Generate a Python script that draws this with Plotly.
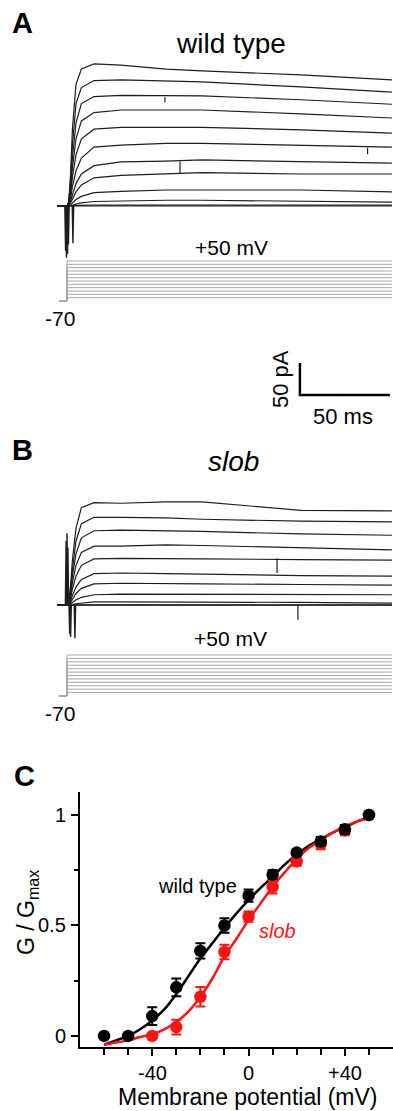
import plotly.graph_objects as go

W, H = 393, 1111
FONT = "Arial, Liberation Sans, sans-serif"

# ---------------- data ----------------
step_mV = [-60, -50, -40, -30, -20, -10, 0, 10, 20, 30, 40, 50]
hold_mV = -70
hold_start_ms = -4.4
step_end_ms = 180.5

# sample times (ms) of the current sweeps
t_ms = [-5.5, 0, 1, 2, 3, 5, 8, 15, 30, 55, 75, 130, 180.5]

# wild type currents (pA), one list per voltage step (-60 ... +50 mV)
wt_current_pA = [
    [0, 0, 0, 0, 0, 0, 0, 0, 0, 0, 0, 0, 0],
    [0, 0, 0, 0, 0, 1, 1, 1.5, 1.5, 1.5, 1.5, 1.5, 1.5],
    [0, 0, 0, 1, 1, 3, 5, 7, 8, 9, 9, 8, 6],
    [0, 0, 0, 2, 5, 10, 15, 21, 23, 25, 25, 25, 22],
    [0, 0, 1, 5, 11, 22, 33, 44, 48, 50, 52, 50, 50],
    [0, 0, 1, 8, 18, 35, 50, 63, 69, 70, 72, 69, 67],
    [0, 0, 2, 12, 30, 55, 75, 92, 95, 98, 98, 95, 92],
    [0, 0, 3, 18, 45, 80, 105, 120, 123, 123, 123, 119, 114],
    [0, 0, 4, 25, 60, 105, 133, 146, 150, 150, 150, 144, 137.5],
    [0, 0, 5, 32, 75, 130, 160, 171, 173, 172, 172, 166, 159],
    [0, 0, 6, 40, 95, 160, 185, 196, 197, 195, 194, 186, 178],
    [0, 0, 8, 50, 120, 190, 214, 222, 220, 214, 211, 205, 197],
]
# slob currents (pA)
slob_current_pA = [
    [0, 0, 0, 0, 0, 0, 0, 0, 0, 0, 0, 0, 0],
    [0, 0, 0, 0, 0, 0, 0, 0, 0, 0, 0, 0, 0],
    [0, 0, 0, 0, 0, 0, 0, 0, 0, 0, 0, 0, 0],
    [0, 0, 0, 0, 1, 2, 3, 5, 5, 5, 5, 4, 3],
    [0, 0, 0, 2, 4, 8, 12, 16, 17, 17, 17, 16, 16],
    [0, 0, 1, 4, 9, 18, 26, 33, 34, 34, 33, 32, 31],
    [0, 0, 1, 6, 15, 28, 40, 49, 50, 49, 48, 46, 45],
    [0, 0, 2, 10, 25, 45, 62, 72, 73, 73, 72, 71, 70],
    [0, 0, 2, 15, 35, 62, 82, 92, 92, 94, 93, 89, 86],
    [0, 0, 3, 20, 45, 80, 105, 116, 117, 116, 115, 111, 109],
    [0, 0, 4, 25, 55, 100, 127, 137, 137, 136, 134, 131, 130],
    [0, 0, 5, 30, 70, 120, 152, 160, 159, 161, 161, 148, 147],
]

# capacitive transients (time ms, peak pA)
wt_spike_t = [-0.8, -0.3, 0.3, 0.8, 3.3]
wt_spike_pA = [-70, -81, -75, -60, -58]
slob_spike_t = [-0.5, 0.0, 0.5, 1.5, 2.0, 4.4]
slob_spike_pA = [100, 112, 90, -45, -50, -52]

# short artefacts on individual sweeps (time ms, trace level pA, tip pA)
wt_glitch_t = [54.4, 62.8, 167.0]
wt_glitch_level = [170, 69, 91]
wt_glitch_tip = [162, 50, 81]
slob_glitch_t = [116.7, 128.3]
slob_glitch_level = [73, 0]
slob_glitch_tip = [50, -23]

# scale bar
bar_ms = 50
bar_pA = 50
bar_t0 = 129.4
bar_I0 = -295.3

# panel C: G/Gmax
wt_V = [-60, -50, -40, -30, -20, -10, 0, 10, 20, 30, 40, 50]
wt_G = [0.0, 0.0, 0.09, 0.22, 0.385, 0.50, 0.635, 0.73, 0.83, 0.88, 0.935, 1.0]
wt_err = [0, 0, 0.04, 0.04, 0.035, 0.033, 0.028, 0.02, 0.012, 0.02, 0.02, 0]
slob_V = [-40, -30, -20, -10, 0, 10, 20, 30, 40, 50]
slob_G = [0.0, 0.04, 0.177, 0.38, 0.54, 0.675, 0.79, 0.87, 0.93, 1.0]
slob_err = [0, 0.033, 0.044, 0.033, 0.023, 0.03, 0.02, 0.025, 0.022, 0]

fit_V = [-60, -55, -50, -45, -40, -35, -30, -25, -20, -15, -10, -5, 0,
         5, 10, 15, 20, 25, 30, 35, 40, 45, 50]
wt_fit = [-0.04, -0.02, 0.0, 0.03, 0.07, 0.12, 0.19, 0.27, 0.35, 0.42, 0.49,
          0.555, 0.615, 0.67, 0.72, 0.775, 0.82, 0.86, 0.89, 0.92, 0.945, 0.97, 0.99]
slob_fit = [-0.04, -0.03, -0.02, -0.005, 0.008, 0.03, 0.063, 0.11, 0.177, 0.26,
            0.36, 0.44, 0.524, 0.60, 0.675, 0.74, 0.80, 0.85, 0.887, 0.92, 0.95, 0.97, 0.985]

x_tickvals = [-40, 0, 40]
x_ticktext = ["-40", "0", "+40"]
x_minor = [-60, -50, -30, -20, -10, 10, 20, 30, 50]
y_tickvals = [0, 0.5, 1]
y_ticktext = ["0", "0.5", "1"]
y_minor = [0.25, 0.75]

# ---------------- figure ----------------
def xdom(a, b):
    return [a / W, b / W]


def ydom(top, bottom):
    return [1 - bottom / H, 1 - top / H]


fig = go.Figure()
TRACE_COL = "#1e1e1e"
STEP_COL = "#a8a8a8"

# A: currents
for ys in wt_current_pA:
    fig.add_trace(go.Scatter(x=t_ms, y=ys, mode="lines", xaxis="x", yaxis="y",
                             line=dict(color=TRACE_COL, width=1.2), hoverinfo="skip"))
for t, d in zip(wt_spike_t, wt_spike_pA):
    fig.add_trace(go.Scatter(x=[t - 0.4, t, t + 0.4], y=[0, d, 0], mode="lines",
                             xaxis="x", yaxis="y", line=dict(color=TRACE_COL, width=1.4),
                             hoverinfo="skip"))
for t, a, b in zip(wt_glitch_t, wt_glitch_level, wt_glitch_tip):
    fig.add_trace(go.Scatter(x=[t, t], y=[a, b], mode="lines", xaxis="x", yaxis="y",
                             line=dict(color=TRACE_COL, width=1.2), hoverinfo="skip"))
# scale bar
fig.add_trace(go.Scatter(x=[bar_t0, bar_t0, bar_t0 + bar_ms],
                         y=[bar_I0 + bar_pA, bar_I0, bar_I0], mode="lines",
                         xaxis="x", yaxis="y", line=dict(color="black", width=2.5),
                         hoverinfo="skip"))
# A: voltage steps
for v in step_mV:
    fig.add_trace(go.Scatter(x=[hold_start_ms, 0, 0, step_end_ms], y=[hold_mV, hold_mV, v, v],
                             mode="lines", xaxis="x2", yaxis="y2",
                             line=dict(color=STEP_COL, width=1), hoverinfo="skip"))

# B: currents
for ys in slob_current_pA:
    fig.add_trace(go.Scatter(x=t_ms, y=ys, mode="lines", xaxis="x3", yaxis="y3",
                             line=dict(color=TRACE_COL, width=1.2), hoverinfo="skip"))
for t, d in zip(slob_spike_t, slob_spike_pA):
    fig.add_trace(go.Scatter(x=[t - 0.4, t, t + 0.4], y=[0, d, 0], mode="lines",
                             xaxis="x3", yaxis="y3", line=dict(color=TRACE_COL, width=1.4),
                             hoverinfo="skip"))
for t, a, b in zip(slob_glitch_t, slob_glitch_level, slob_glitch_tip):
    fig.add_trace(go.Scatter(x=[t, t], y=[a, b], mode="lines", xaxis="x3", yaxis="y3",
                             line=dict(color=TRACE_COL, width=1.2), hoverinfo="skip"))
for v in step_mV:
    fig.add_trace(go.Scatter(x=[hold_start_ms, 0, 0, step_end_ms], y=[hold_mV, hold_mV, v, v],
                             mode="lines", xaxis="x4", yaxis="y4",
                             line=dict(color=STEP_COL, width=1), hoverinfo="skip"))

# C: activation curves
RED = "#ff1414"
fig.add_trace(go.Scatter(x=fit_V, y=wt_fit, mode="lines", xaxis="x5", yaxis="y5",
                         line=dict(color="black", width=2.5, shape="spline"), hoverinfo="skip"))
fig.add_trace(go.Scatter(x=fit_V, y=slob_fit, mode="lines", xaxis="x5", yaxis="y5",
                         line=dict(color=RED, width=2.5, shape="spline"), hoverinfo="skip"))
fig.add_trace(go.Scatter(x=slob_V, y=slob_G, mode="markers", xaxis="x5", yaxis="y5",
                         marker=dict(color=RED, size=12.5),
                         error_y=dict(type="data", array=slob_err, color=RED,
                                      thickness=2, width=5), hoverinfo="skip"))
fig.add_trace(go.Scatter(x=wt_V, y=wt_G, mode="markers", xaxis="x5", yaxis="y5",
                         marker=dict(color="black", size=12.5),
                         error_y=dict(type="data", array=wt_err, color="black",
                                      thickness=2, width=5), hoverinfo="skip"))

hidden = dict(visible=False, fixedrange=True)
# time axis: pixel x = 67 + 1.8 * t
t_left = (50 - 67) / 1.8
t_right = (393 - 67) / 1.8

fig.update_layout(
    width=W, height=H,
    margin=dict(l=0, r=0, t=0, b=0),
    paper_bgcolor="white", plot_bgcolor="rgba(0,0,0,0)",
    showlegend=False,
    font=dict(family=FONT, color="black"),
    xaxis=dict(hidden, domain=xdom(50, 393), range=[t_left, t_right], anchor="y"),
    yaxis=dict(hidden, domain=ydom(50, 405),
               range=[(206 - 405) / 0.64, (206 - 50) / 0.64], anchor="x"),
    xaxis2=dict(hidden, domain=xdom(50, 393), range=[t_left, t_right], anchor="y2"),
    yaxis2=dict(hidden, domain=ydom(255, 305), range=[-82, 68], anchor="x2"),
    xaxis3=dict(hidden, domain=xdom(50, 393), range=[t_left, t_right], anchor="y3"),
    yaxis3=dict(hidden, domain=ydom(480, 660),
                range=[(605 - 660) / 0.64, (605 - 480) / 0.64], anchor="x3"),
    xaxis4=dict(hidden, domain=xdom(50, 393), range=[t_left, t_right], anchor="y4"),
    yaxis4=dict(hidden, domain=ydom(650, 700), range=[-81.7, 64.6], anchor="x4"),
    xaxis5=dict(domain=xdom(80, 393), range=[-70, 60], anchor="y5",
                showline=True, linecolor="black", linewidth=2, showgrid=False, zeroline=False,
                ticks="outside", ticklen=7, tickwidth=2, tickcolor="black",
                tickmode="array", tickvals=x_tickvals, showticklabels=False,
                minor=dict(tickmode="array", tickvals=x_minor, ticks="outside",
                           ticklen=6, tickwidth=2, tickcolor="black", showgrid=False),
                fixedrange=True),
    yaxis5=dict(domain=ydom(792, 1047), range=[-0.05, 1.104], anchor="x5",
                showline=True, linecolor="black", linewidth=2, showgrid=False, zeroline=False,
                ticks="outside", ticklen=7, tickwidth=2, tickcolor="black",
                tickmode="array", tickvals=y_tickvals, showticklabels=False,
                minor=dict(tickmode="array", tickvals=y_minor, ticks="outside",
                           ticklen=4, tickwidth=2, tickcolor="black", showgrid=False),
                fixedrange=True),
)


def ann(text, px, py, size, **kw):
    d = dict(text=text, x=px / W, y=1 - py / H, xref="paper", yref="paper",
             showarrow=False, xanchor="center", yanchor="middle",
             font=dict(size=size, family=FONT, color=kw.pop("color", "black")))
    d.update(kw)
    fig.add_annotation(**d)


ann("<b>A</b>", 22, 23, 29)
ann("<b>B</b>", 22, 450, 29)
ann("<b>C</b>", 24, 776, 29)
ann("wild type", 231, 43, 28)
ann("<i>slob</i>", 233, 461, 28)
ann("+50 mV", 231, 247, 21)
ann("+50 mV", 230, 638, 21)
ann("-70", 60, 318, 21)
ann("-70", 60, 713, 21)
ann("50 pA", 280, 379, 22, textangle=-90)
ann("50 ms", 343, 417, 22)
ann("wild type", 197, 886, 20)
ann("<i>slob</i>", 277, 931, 20, color=RED)
ann("G / G<sub>max</sub>", 27, 913, 23, textangle=-90)
ann("Membrane potential (mV)", 248, 1097, 23)

# tick labels of panel C
for v, s in zip(x_tickvals, x_ticktext):
    fig.add_annotation(text=s, x=v, xref="x5", y=1 - 1073 / H, yref="paper",
                       showarrow=False, xanchor="center", yanchor="middle",
                       font=dict(size=20, family=FONT, color="black"))
for v, s in zip(y_tickvals, y_ticktext):
    fig.add_annotation(text=s, x=68 / W, xref="paper", y=v, yref="y5",
                       showarrow=False, xanchor="right", yanchor="middle",
                       font=dict(size=20, family=FONT, color="black"))

fig.write_html("out.html", config={"displayModeBar": False},
               post_script="document.body.style.margin='0px';document.body.style.overflow='hidden';")
